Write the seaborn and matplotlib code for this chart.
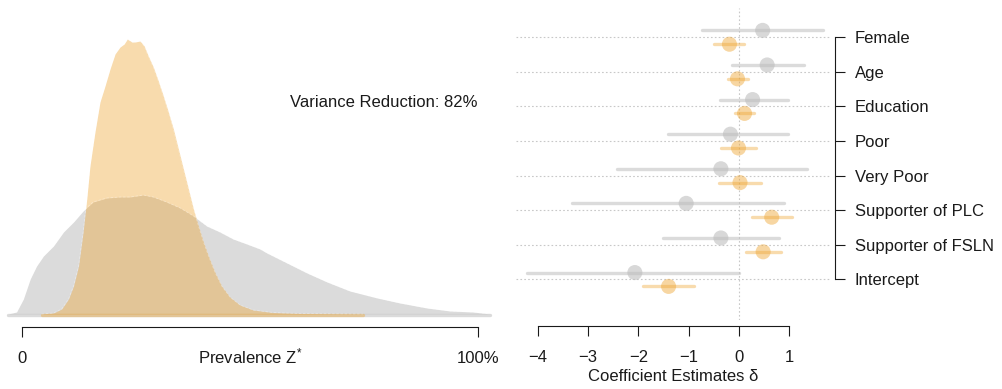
import matplotlib
matplotlib.use("Agg")
import matplotlib.pyplot as plt
import pandas as pd
import seaborn as sns

# Prevalence densities (x in percent of Z*, heights in density units)
prior_x = [-3.0, -1.2, 0.3, 1.8, 3.2, 4.7, 6.9, 9.1, 11.3, 13.4, 15.6, 18.6, 21.5, 23.7,
           26.6, 28.8, 31.7, 34.7, 37.6, 40.5, 43.4, 46.3, 49.3, 52.2, 53.7, 58.1, 62.5,
           66.9, 71.9, 77.9, 82.9, 88.8, 93.9, 98.9, 102.6]
prior_d = [0.0, 0.02, 0.15, 0.35, 0.48, 0.58, 0.68, 0.82, 0.92, 1.03, 1.12, 1.16, 1.17, 1.17,
           1.19, 1.17, 1.12, 1.06, 0.98, 0.88, 0.82, 0.75, 0.70, 0.65, 0.61, 0.51, 0.41,
           0.32, 0.23, 0.16, 0.11, 0.06, 0.03, 0.02, 0.0]
post_x = [4.3, 6.9, 8.7, 10.2, 11.3, 12.4, 13.4, 14.2, 14.9, 16.0, 17.1, 18.2, 19.3, 20.4,
          21.5, 22.4, 23.1, 24.1, 24.8, 25.9, 26.8, 27.7, 28.8, 29.9, 31.0, 32.1, 33.2,
          34.3, 35.4, 36.5, 37.6, 38.7, 39.8, 40.9, 42.3, 43.8, 45.6, 47.8, 50.7, 55.0,
          61.0, 74.8]
post_d = [0.0, 0.01, 0.05, 0.15, 0.28, 0.48, 0.82, 1.15, 1.48, 1.82, 2.12, 2.28, 2.45, 2.60,
          2.67, 2.70, 2.75, 2.72, 2.72, 2.73, 2.68, 2.58, 2.47, 2.33, 2.18, 2.02, 1.85,
          1.65, 1.45, 1.25, 1.05, 0.88, 0.72, 0.58, 0.42, 0.28, 0.17, 0.09, 0.04, 0.015,
          0.005, 0.0]
variance_reduction = 82

# Coefficient estimates with intervals
terms = ["Female", "Age", "Education", "Poor", "Very Poor",
         "Supporter of PLC", "Supporter of FSLN", "Intercept"]
prior_est = [0.47, 0.56, 0.27, -0.17, -0.36, -1.05, -0.36, -2.07]
prior_lo = [-0.74, -0.145, -0.38, -1.41, -2.42, -3.31, -1.52, -4.21]
prior_hi = [1.66, 1.30, 0.98, 0.98, 1.36, 0.895, 0.80, 0.0]
post_est = [-0.19, -0.03, 0.11, -0.01, 0.02, 0.65, 0.48, -1.40]
post_lo = [-0.49, -0.22, -0.08, -0.36, -0.39, 0.25, 0.14, -1.91]
post_hi = [0.105, 0.17, 0.30, 0.34, 0.44, 1.06, 0.835, -0.89]
x_ticks = [-4, -3, -2, -1, 0, 1]

GREY, ORANGE = "#BEBEBE", "#EEA532"
A_GREY, A_ORANGE = 0.55, 0.40
INK = "#1a1a1a"

sns.set_theme(style="white")
plt.rcParams["font.family"] = ["Liberation Sans", "DejaVu Sans"]
plt.rcParams["mathtext.fontset"] = "custom"
plt.rcParams["mathtext.rm"] = "Liberation Sans"
plt.rcParams["mathtext.it"] = "Liberation Sans:italic"
plt.rcParams["font.size"] = 12

W, H = 1003, 389
fig = plt.figure(figsize=(W / 100, H / 100), dpi=100)
fig.patch.set_facecolor("white")


def box(x0, x1, ytop, ybot):
    return [x0 / W, 1 - ybot / H, (x1 - x0) / W, (ybot - ytop) / H]


# ---------------- left: densities ----------------
axL = fig.add_axes(box(0, 500, 8, 320))
dens = pd.concat([
    pd.DataFrame({"z": prior_x, "d": prior_d, "model": "prior"}),
    pd.DataFrame({"z": post_x, "d": post_d, "model": "posterior"}),
])
for model, col, a in [("prior", GREY, A_GREY), ("posterior", ORANGE, A_ORANGE)]:
    sub = dens[dens["model"] == model]
    axL.fill_between(sub["z"], 0, sub["d"], color=col, alpha=a, lw=0, zorder=2)
    axL.plot([sub["z"].iloc[0], sub["z"].iloc[-1]], [-0.012, -0.012], color=col,
             alpha=a, lw=2.4, solid_capstyle="round", zorder=2)
    sns.lineplot(data=sub, x="z", y="d", ax=axL, color="white", alpha=0.35, lw=0.6,
                 ls=(0, (3, 2)), sort=False, estimator=None, zorder=3)

axL.set_xlim(-4.825, 104.82)
axL.set_ylim(-0.06, 3.06)
axL.text(58.8, 2.07, f"Variance Reduction: {variance_reduction}%", ha="left",
         va="baseline", fontsize=12, color=INK)
for s in ["left", "right", "top"]:
    axL.spines[s].set_visible(False)
axL.spines["bottom"].set_position(("outward", 5.0))
axL.spines["bottom"].set_bounds(0, 100)
axL.spines["bottom"].set_color(INK)
axL.spines["bottom"].set_linewidth(0.8)
axL.set_yticks([])
axL.set_xticks([0, 100])
axL.set_xticklabels(["0", "100%"])
axL.tick_params(axis="x", direction="out", length=7.2, width=0.8, pad=10.0,
                labelsize=12, colors=INK, bottom=True)
axL.set_xlabel("Prevalence Z$^{*}$", fontsize=12, color=INK, va="baseline")
axL.xaxis.set_label_coords(0.5, -0.1378)
axL.set_ylabel("")

# ---------------- right: coefficients ----------------
axR = fig.add_axes(box(516, 830, 8, 320))
n = len(terms)
coef = pd.concat([
    pd.DataFrame({"term": terms, "est": prior_est, "lo": prior_lo, "hi": prior_hi,
                  "model": "prior", "pos": [i - 0.2 for i in range(n)]}),
    pd.DataFrame({"term": terms, "est": post_est, "lo": post_lo, "hi": post_hi,
                  "model": "posterior", "pos": [i + 0.2 for i in range(n)]}),
])
axR.axvline(0, color="#c8c8c8", lw=0.8, ls=(0, (1.5, 2)), zorder=1)
for model, col, a in [("prior", GREY, A_GREY), ("posterior", ORANGE, A_ORANGE)]:
    sub = coef[coef["model"] == model]
    for _, r in sub.iterrows():
        axR.plot([r["lo"], r["hi"]], [r["pos"], r["pos"]], color=col, alpha=a, lw=2.4,
                 solid_capstyle="round", zorder=3)
    sns.scatterplot(data=sub, x="est", y="pos", ax=axR, color=col, alpha=a + 0.05,
                    s=118, edgecolor="none", legend=False, zorder=4)

axR.set_xlim(-4.433, 1.809)
axR.set_ylim(8.171, -0.847)
axR.set_yticks(range(n))
axR.set_yticklabels(terms)
axR.yaxis.tick_right()
axR.yaxis.grid(True, color="#c8c8c8", lw=0.8, ls=(0, (1.5, 2)))
axR.xaxis.grid(False)
axR.set_axisbelow(True)
axR.set_xticks(x_ticks)
axR.set_xticklabels([f"{t}".replace("-", "\u2212") for t in x_ticks])
for s in ["left", "top"]:
    axR.spines[s].set_visible(False)
axR.spines["bottom"].set_position(("outward", 4.3))
axR.spines["bottom"].set_bounds(-4, 1)
axR.spines["right"].set_position(("outward", 3.4))
axR.spines["right"].set_bounds(0, n - 1)
for s in ["bottom", "right"]:
    axR.spines[s].set_color(INK)
    axR.spines[s].set_linewidth(0.8)
axR.tick_params(axis="x", direction="out", length=7.2, width=0.8, pad=10.0,
                labelsize=12, colors=INK, bottom=True)
axR.tick_params(axis="y", direction="out", length=7.4, width=0.8, pad=7.2,
                labelsize=12, colors=INK, right=True, left=False)
axR.set_ylabel("")
axR.set_xlabel("Coefficient Estimates \u03b4", fontsize=12, color=INK, va="baseline")
axR.xaxis.set_label_coords(0.5, -0.1955)

fig.savefig("out.png", dpi=100, facecolor="white")
